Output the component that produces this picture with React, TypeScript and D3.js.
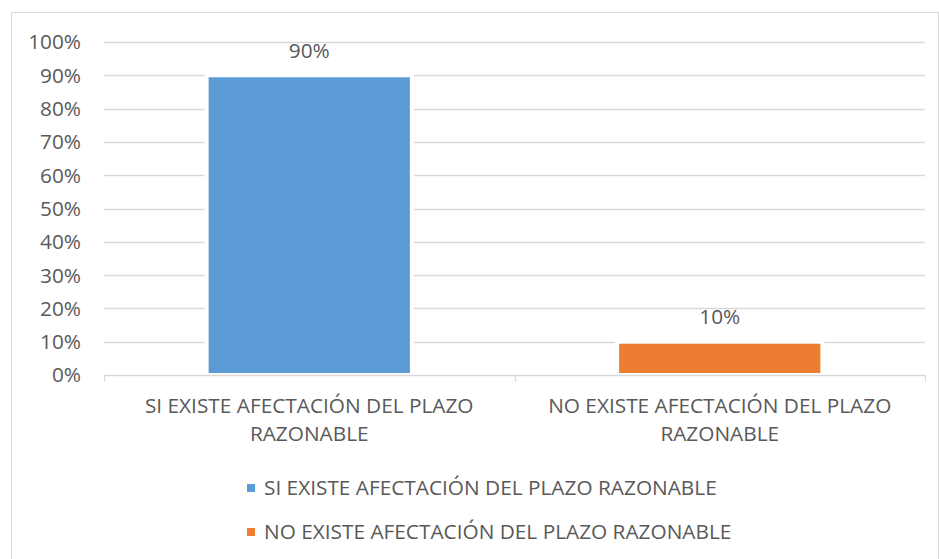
import * as d3 from "d3";
import { useEffect, useRef } from "react";

const categories = ["SI EXISTE AFECTACIÓN DEL PLAZO RAZONABLE", "NO EXISTE AFECTACIÓN DEL PLAZO RAZONABLE"];
const categoryLines = [
  ["SI EXISTE AFECTACIÓN DEL PLAZO", "RAZONABLE"],
  ["NO EXISTE AFECTACIÓN DEL PLAZO", "RAZONABLE"],
];
const values = [0.9, 0.1];
const valueLabels = ["90%", "10%"];
const colors = ["#5B9BD5", "#ED7D31"];
const yTicks = [0, 0.1, 0.2, 0.3, 0.4, 0.5, 0.6, 0.7, 0.8, 0.9, 1];

const W = 939;
const H = 559;
const FONT = "'Open Sans', sans-serif";
const FS = "20.8px";
const TEXT = "#595959";

export default function App() {
  const ref = useRef<SVGSVGElement | null>(null);

  useEffect(() => {
    if (!ref.current) return;
    document.body.style.margin = "0";
    const svg = d3.select(ref.current);
    svg.selectAll("*").remove();

    const left = 104;
    const right = 925;
    const top = 42;
    const bottom = 375;

    // chart frame
    svg.append("rect")
      .attr("x", 11.5).attr("y", 12.5)
      .attr("width", 927).attr("height", 560)
      .attr("fill", "#fff").attr("stroke", "#D9D9D9").attr("stroke-width", 1);

    const x = d3.scaleBand<number>()
      .domain(categories.map((_, i) => i))
      .range([left, right])
      .paddingInner(0.5)
      .paddingOuter(0.25);

    const y = d3.scaleLinear().domain([0, 1]).range([bottom, top]);

    // gridlines
    svg.append("g").selectAll("line")
      .data(yTicks.filter((t) => t > 0))
      .join("line")
      .attr("x1", left).attr("x2", right)
      .attr("y1", (d) => Math.round(y(d)) + 0.5)
      .attr("y2", (d) => Math.round(y(d)) + 0.5)
      .attr("stroke", "#D9D9D9").attr("stroke-width", 1.3);

    // y labels
    svg.append("g").selectAll("text")
      .data(yTicks)
      .join("text")
      .attr("x", 81)
      .attr("y", (d) => y(d))
      .attr("dy", "0.36em")
      .attr("text-anchor", "end")
      .attr("fill", TEXT)
      .style("font-family", FONT)
      .style("font-size", FS)
      .text((d) => d3.format(".0%")(d));

    // bars
    svg.append("g").selectAll("rect")
      .data(values)
      .join("rect")
      .attr("x", (_, i) => x(i) ?? 0)
      .attr("y", (d) => y(d))
      .attr("width", x.bandwidth())
      .attr("height", (d) => bottom - y(d))
      .attr("fill", (_, i) => colors[i])
      .attr("stroke", "#fff")
      .attr("stroke-width", 4);

    // x axis line + ticks
    const axisY = bottom + 0.5;
    svg.append("line")
      .attr("x1", left).attr("x2", right)
      .attr("y1", axisY).attr("y2", axisY)
      .attr("stroke", "#D9D9D9").attr("stroke-width", 1.3);
    const tickXs = [left, ...categories.map((_, i) => (x(i) ?? 0) + x.bandwidth() + (x.step() - x.bandwidth()) / 2)];
    svg.append("g").selectAll("line")
      .data(tickXs)
      .join("line")
      .attr("x1", (d) => Math.round(d) + 0.5).attr("x2", (d) => Math.round(d) + 0.5)
      .attr("y1", axisY).attr("y2", axisY + 6)
      .attr("stroke", "#D9D9D9").attr("stroke-width", 1.3);

    // value labels
    svg.append("g").selectAll("text")
      .data(values)
      .join("text")
      .attr("x", (_, i) => (x(i) ?? 0) + x.bandwidth() / 2)
      .attr("y", (d) => y(d) - 25)
      .attr("dy", "0.36em")
      .attr("text-anchor", "middle")
      .attr("fill", TEXT)
      .style("font-family", FONT)
      .style("font-size", FS)
      .text((_, i) => valueLabels[i]);

    // category labels
    categoryLines.forEach((lines, i) => {
      const t = svg.append("text")
        .attr("text-anchor", "middle")
        .attr("fill", TEXT)
        .style("font-family", FONT)
        .style("font-size", FS);
      lines.forEach((ln, j) => {
        t.append("tspan")
          .attr("x", (x(i) ?? 0) + x.bandwidth() / 2)
          .attr("y", 412.5 + j * 28)
          .text(ln);
      });
    });

    // legend
    const legend = svg.append("g");
    categories.forEach((c, i) => {
      const cy = 488 + i * 44;
      legend.append("rect")
        .attr("x", 247).attr("y", cy - 4)
        .attr("width", 8).attr("height", 8)
        .attr("fill", colors[i]);
      legend.append("text")
        .attr("x", 264).attr("y", cy)
        .attr("dy", "0.36em")
        .attr("fill", TEXT)
        .style("font-family", FONT)
        .style("font-size", FS)
        .text(c);
    });
  }, []);

  return (
    <div style={{ position: "absolute", left: 0, top: 0 }}>
      <svg ref={ref} width={W} height={H} style={{ display: "block" }} />
    </div>
  );
}
